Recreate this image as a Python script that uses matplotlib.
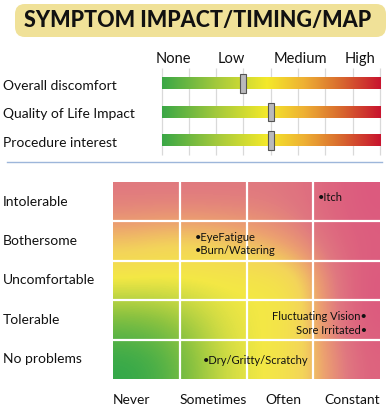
import numpy as np
import matplotlib
matplotlib.use("Agg")
import matplotlib.pyplot as plt
from matplotlib.colors import LinearSegmentedColormap
from matplotlib.patches import FancyBboxPatch
from matplotlib.lines import Line2D
from matplotlib.transforms import blended_transform_factory

plt.rcParams['font.family'] = ['Lato', 'DejaVu Sans']

# data
title = "SYMPTOM IMPACT/TIMING/MAP"
scale_labels = ["None", "Low", "Medium", "High"]
scale_label_pos = [0.45, 2.55, 5.1, 7.25]
slider_rows = ["Overall discomfort", "Quality of Life Impact", "Procedure interest"]
slider_values = [3.0, 4.0, 4.0]   # on a 0-8 scale

severity_rows = ["Intolerable", "Bothersome", "Uncomfortable", "Tolerable", "No problems"]
timing_cols = ["Never", "Sometimes", "Often", "Constant"]
timing_label_pos = [0.28, 1.5, 2.55, 3.58]

# heat background, half-column resolution, top row first (0 = green, 1 = pink)
heat = np.array([
    [0.86, 0.86, 0.86, 0.86, 0.86, 0.88, 0.95, 1.00],
    [0.62, 0.58, 0.58, 0.62, 0.68, 0.78, 0.92, 0.98],
    [0.46, 0.45, 0.45, 0.45, 0.45, 0.50, 0.82, 1.00],
    [0.16, 0.20, 0.30, 0.42, 0.45, 0.50, 0.82, 1.00],
    [0.00, 0.06, 0.22, 0.38, 0.45, 0.52, 0.75, 0.96],
])

symptoms = ["•Itch", "•EyeFatigue", "•Burn/Watering", "Fluctuating Vision•",
            "Sore Irritated•", "•Dry/Gritty/Scratchy"]
symptom_x = [3.07, 1.23, 1.23, 3.80, 3.80, 1.34]
symptom_y = [0.40, 1.41, 1.73, 3.42, 3.78, 4.54]
symptom_ha = ["left", "left", "left", "right", "right", "left"]

W, H = 389, 407
fig = plt.figure(figsize=(W / 100, H / 100), dpi=100)
fig.patch.set_facecolor("white")

def box(x0, y0, x1, y1):
    return [x0 / W, 1 - y1 / H, (x1 - x0) / W, (y1 - y0) / H]

# title banner
fig.add_artist(FancyBboxPatch((15 / W, 1 - 37 / H), 371 / W, 33 / H,
                              boxstyle="round,pad=0,rounding_size=0.025",
                              transform=fig.transFigure, facecolor="#f0e198",
                              edgecolor="none"))
fig.text(24 / W, 1 - 20.5 / H, title, fontsize=15.5, fontweight="black",
         color="#111111", va="center", ha="left")

# slider section
bar_cmap = LinearSegmentedColormap.from_list("bar", [
    (0.0, "#3aa746"), (0.25, "#a4c93c"), (0.48, "#f4e92a"),
    (0.65, "#eeb034"), (0.82, "#d8682e"), (1.0, "#c8142e")])

ax = fig.add_axes(box(161.5, 68, 380, 155))
ax.set_xlim(0, 8)
ax.set_ylim(2.51, -0.54)
ax.axis("off")
ax.vlines(np.arange(0, 9), 2.51, -0.54, color="#d9d9d9", lw=0.9, clip_on=False, zorder=0)
grad = np.linspace(0, 1, 256).reshape(1, -1)
for i, v in enumerate(slider_values):
    ax.imshow(grad, cmap=bar_cmap, aspect="auto", extent=[0, 8, i + 0.2, i - 0.2], zorder=1)
    ax.bar(v, 0.66, width=0.22, bottom=i - 0.33, color="#b9b9bb",
           edgecolor="#555555", linewidth=0.8, zorder=3)
for lab, x in zip(scale_labels, scale_label_pos):
    ax.text(x, -0.86, lab, ha="center", va="center", fontsize=10.5, color="#111111", clip_on=False)
tr = blended_transform_factory(fig.transFigure, ax.transData)
for i, lab in enumerate(slider_rows):
    ax.text(3 / W, i + 0.08, lab, transform=tr, ha="left", va="center",
            fontsize=10, color="#111111")

# separator
fig.add_artist(Line2D([7 / W, 382 / W], [1 - 162 / H, 1 - 162 / H],
                      transform=fig.transFigure, color="#9db6da", lw=1))

# heat map
heat_cmap = LinearSegmentedColormap.from_list("heat", [
    (0.0, "#33a84a"), (0.22, "#8fc440"), (0.45, "#f3e845"), (0.58, "#f3d45a"),
    (0.72, "#eca070"), (0.86, "#e07880"), (1.0, "#dc5a7e")])

hx = fig.add_axes(box(113, 182, 380, 379))
hx.imshow(heat, cmap=heat_cmap, vmin=0, vmax=1, aspect="auto",
          interpolation="bicubic", extent=[0, 4, 5, 0])
hx.set_xlim(0, 4)
hx.set_ylim(5, 0)
hx.axis("off")
for c in range(1, 4):
    hx.axvline(c, color="white", lw=1.6)
for r in range(1, 5):
    hx.axhline(r, color="white", lw=1.6)
for s, x, y, ha in zip(symptoms, symptom_x, symptom_y, symptom_ha):
    hx.text(x, y, s, ha=ha, va="center", fontsize=8, color="#111111")

htr = blended_transform_factory(fig.transFigure, hx.transData)
for i, lab in enumerate(severity_rows):
    hx.text(3 / W, i + 0.5, lab, transform=htr, ha="left", va="center",
            fontsize=10, color="#111111")
for lab, x in zip(timing_cols, timing_label_pos):
    hx.text(x, 5.53, lab, ha="center", va="center", fontsize=10,
            color="#111111", clip_on=False)

fig.savefig("out.png", dpi=100)
